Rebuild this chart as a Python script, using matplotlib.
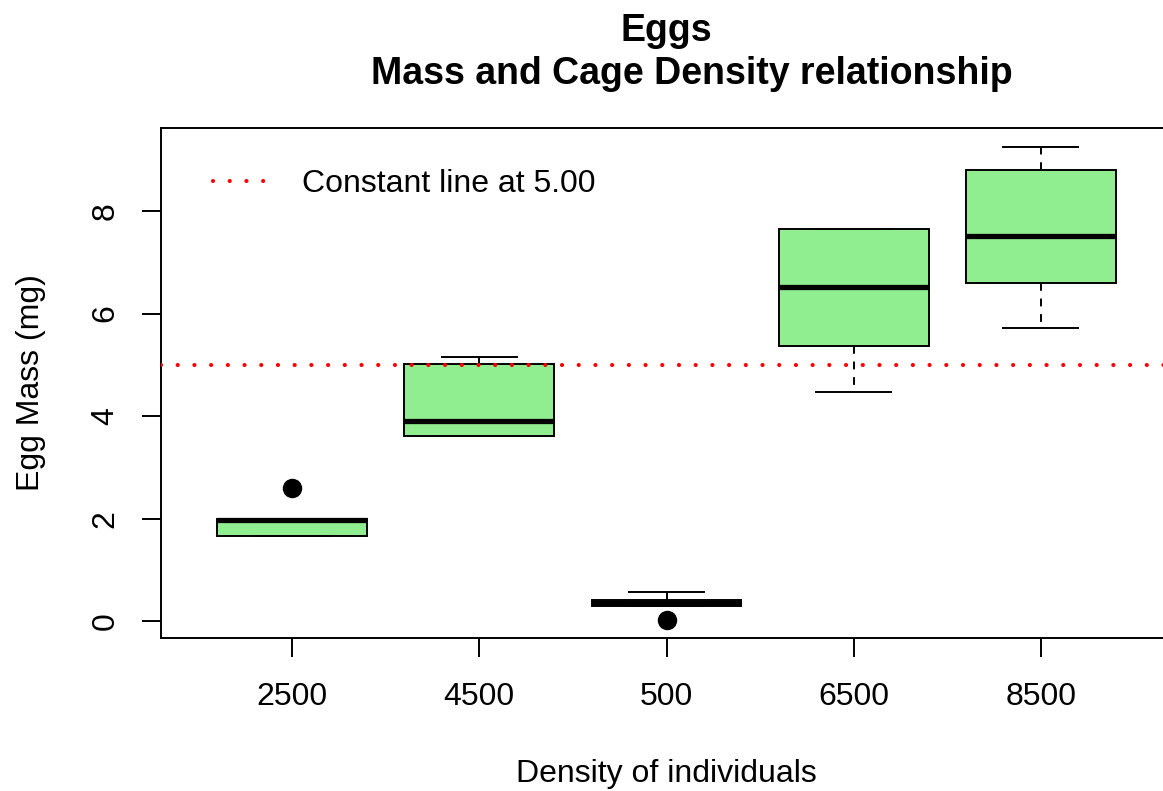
import matplotlib
matplotlib.use("Agg")
import matplotlib.pyplot as plt
from matplotlib.lines import Line2D

plt.rcParams['font.family'] = ['Liberation Sans', 'DejaVu Sans']

# box summaries per cage density (mg)
densities = ['2500', '4500', '500', '6500', '8500']
q1 = [1.66, 3.61, 0.29, 5.37, 6.59]
med = [1.97, 3.90, 0.35, 6.52, 7.51]
q3 = [1.99, 5.01, 0.42, 7.64, 8.81]
whis_lo = [1.66, 3.61, 0.29, 4.47, 5.72]
whis_hi = [2.00, 5.16, 0.57, 7.65, 9.25]
outliers = [[2.60], [], [0.02], [], []]
const_level = 5.0

W, H = 1163, 791
fig = plt.figure(figsize=(W / 100, H / 100), dpi=100)
ax = fig.add_axes([161 / W, (H - 638) / H, (1172 - 161) / W, (638 - 128) / H])

stats = []
for i in range(len(densities)):
    stats.append(dict(label=densities[i], q1=q1[i], med=med[i], q3=q3[i],
                      whislo=whis_lo[i], whishi=whis_hi[i], fliers=outliers[i]))

ax.bxp(stats, positions=range(1, len(densities) + 1), widths=0.8,
       patch_artist=True, showfliers=True,
       boxprops=dict(facecolor='#90EE90', edgecolor='black', linewidth=1.4),
       medianprops=dict(color='black', linewidth=3.8, solid_capstyle='butt'),
       whiskerprops=dict(color='black', linewidth=1.4, linestyle=(0, (4, 4))),
       capprops=dict(color='black', linewidth=1.4),
       capwidths=0.4,
       flierprops=dict(marker='o', markerfacecolor='black', markeredgecolor='black',
                       markersize=13))

dots = (0, (0.01, 4.0))
ax.axhline(const_level, color='red', linewidth=3.0, linestyle=dots,
           dash_capstyle='round', zorder=3)

ax.set_xlim(0.3, 5.7)
ax.set_ylim(-0.33, 9.62)
ax.set_yticks([0, 2, 4, 6, 8])
ax.tick_params(axis='both', direction='out', length=14, width=1.4,
               labelsize=23)
ax.tick_params(axis='x', pad=18)
ax.tick_params(axis='y', pad=15)
for lab in ax.get_yticklabels():
    lab.set_rotation(90)
    lab.set_va('center')
for sp in ax.spines.values():
    sp.set_linewidth(1.4)

handle = Line2D([0], [0], color='red', linewidth=3.0, linestyle=dots,
                dash_capstyle='round')
ax.legend([handle], ['Constant line at %.2f' % const_level], loc='center left',
          bbox_to_anchor=(213 / W, 1 - 184 / H), bbox_transform=fig.transFigure,
          frameon=False, fontsize=23, handlelength=1.75, handletextpad=1.05,
          borderpad=0, borderaxespad=0)

fig.text(666 / W, 1 - 31 / H, 'Eggs', ha='center', va='center',
         fontsize=27, fontweight='bold')
fig.text(692 / W, 1 - 74 / H, 'Mass and Cage Density relationship', ha='center',
         va='center', fontsize=27, fontweight='bold')
fig.text(666 / W, 1 - 774 / H, 'Density of individuals', ha='center',
         va='center', fontsize=23)
fig.text(31 / W, 1 - 383 / H, 'Egg Mass (mg)', ha='center', va='center',
         rotation=90, fontsize=23)

fig.savefig('out.png', dpi=100)
